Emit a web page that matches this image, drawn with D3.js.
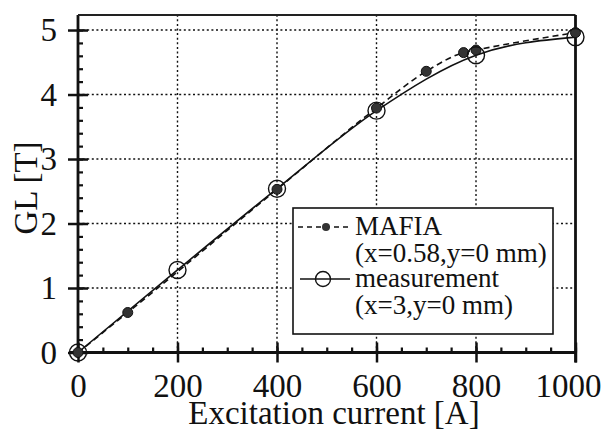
<!DOCTYPE html>
<html>
<head>
<meta charset="utf-8">
<script src="https://cdn.jsdelivr.net/npm/d3@7"></script>
</head>
<body style="margin:0">
<svg id="viewer"></svg>
<script>
// data
var mafiaCurrent = [0, 100, 400, 600, 700, 775, 800, 1000];
var mafiaGL      = [0, 0.62, 2.53, 3.79, 4.36, 4.65, 4.69, 4.96];
var measCurrent  = [0, 200, 400, 600, 800, 1000];
var measGL       = [0, 1.28, 2.54, 3.75, 4.61, 4.89];
var xTicks = [0, 200, 400, 600, 800, 1000];
var yTicks = [0, 1, 2, 3, 4, 5];
var legendLabels = [['MAFIA', '(x=0.58,y=0 mm)'], ['measurement', '(x=3,y=0 mm)']];

var mafia = mafiaCurrent.map(function(c,i){return {x:c, y:mafiaGL[i]};});
var meas  = measCurrent.map(function(c,i){return {x:c, y:measGL[i]};});

function serif(sel, size)
{
  sel.style('font-family',"'Liberation Serif'")
    .style('font-size',size+'px')
    .style('fill','#111');
}

var viewer = d3.select('#viewer')
  .attr('width',605)
  .attr('height',430);

var x = d3.scaleLinear().domain([0,1000]).range([78,575.5]);
var y = d3.scaleLinear().domain([0,5.233]).range([352.5,15]);

// dotted grid
viewer.append('g').selectAll('line')
  .data(yTicks.slice(1))
  .enter().append('line')
    .attr('x1',x(0)).attr('x2',x(1000))
    .attr('y1',function(d){return y(d);}).attr('y2',function(d){return y(d);})
    .attr('stroke','#111').attr('stroke-width',1.4).attr('stroke-dasharray','2,2.6');
viewer.append('g').selectAll('line')
  .data(xTicks.slice(1,5))
  .enter().append('line')
    .attr('x1',function(d){return x(d);}).attr('x2',function(d){return x(d);})
    .attr('y1',y(0)).attr('y2',y.range()[1])
    .attr('stroke','#111').attr('stroke-width',1.4).attr('stroke-dasharray','2,2.6');

// minor ticks (inside)
var yMinor = viewer.append('g')
  .attr('transform','translate('+x(0)+',0)')
  .call(d3.axisRight(y).tickValues(d3.range(0,5.01,0.2)).tickSize(5).tickFormat(''));
yMinor.select('.domain').remove();
yMinor.selectAll('line').attr('stroke','#111').attr('stroke-width',2.2);
var xMinor = viewer.append('g')
  .attr('transform','translate(0,'+y(0)+')')
  .call(d3.axisTop(x).tickValues(d3.range(0,1001,50)).tickSize(5).tickFormat(''));
xMinor.select('.domain').remove();
xMinor.selectAll('line').attr('stroke','#111').attr('stroke-width',2.2);

// major axes
var yAxis = viewer.append('g')
  .attr('transform','translate('+x(0)+',0)')
  .call(d3.axisLeft(y).tickValues(yTicks).tickSize(10).tickPadding(11).tickFormat(d3.format('d')));
yAxis.select('.domain').remove();
yAxis.selectAll('line').attr('x2',-10).attr('x1',10).attr('stroke','#111').attr('stroke-width',2.5);
yAxis.selectAll('text').attr('dy','0.33em').call(serif,33);

var xAxis = viewer.append('g')
  .attr('transform','translate(0,'+y(0)+')')
  .call(d3.axisBottom(x).tickValues(xTicks).tickSize(10).tickPadding(0).tickFormat(d3.format('d')));
xAxis.select('.domain').remove();
xAxis.selectAll('line').attr('y1',-10).attr('y2',10).attr('stroke','#111').attr('stroke-width',2.5);
xAxis.selectAll('text').attr('y',44).attr('dy',0).call(serif,33)
  .filter(function(d){return d===1000;})
    .attr('text-anchor','end').attr('x',601-x(1000));

// frame
viewer.append('line').attr('x1',x(0)).attr('x2',x(0)).attr('y1',y.range()[1]).attr('y2',y(0)+5)
  .attr('stroke','#111').attr('stroke-width',2.8);
viewer.append('line').attr('x1',x(0)-8).attr('x2',x(1000)).attr('y1',y(0)).attr('y2',y(0))
  .attr('stroke','#111').attr('stroke-width',2.8);
viewer.append('line').attr('x1',x(0)).attr('x2',x(1000)).attr('y1',y.range()[1]).attr('y2',y.range()[1])
  .attr('stroke','#222').attr('stroke-width',2);
viewer.append('line').attr('x1',x(1000)).attr('x2',x(1000)).attr('y1',y.range()[1]).attr('y2',y(0)+10)
  .attr('stroke','#111').attr('stroke-width',2.8);

// curves
var line = d3.line()
  .x(function(d){return x(d.x);})
  .y(function(d){return y(d.y);})
  .curve(d3.curveMonotoneX);

viewer.append('path').datum(mafia)
  .attr('d',line).attr('fill','none')
  .attr('stroke','#111').attr('stroke-width',1.6).attr('stroke-dasharray','6,4');
viewer.append('path').datum(meas)
  .attr('d',line).attr('fill','none')
  .attr('stroke','#111').attr('stroke-width',1.6);

viewer.append('g').selectAll('circle')
  .data(mafia)
  .enter().append('circle')
    .attr('cx',function(d){return x(d.x);})
    .attr('cy',function(d){return y(d.y);})
    .attr('r',5).attr('fill','#333').attr('stroke','#111').attr('stroke-width',1);
viewer.append('g').selectAll('circle')
  .data(meas)
  .enter().append('circle')
    .attr('cx',function(d){return x(d.x);})
    .attr('cy',function(d){return y(d.y);})
    .attr('r',8.5).attr('fill','none').attr('stroke','#111').attr('stroke-width',1.4);

// axis titles
viewer.append('text')
  .attr('x',334).attr('y',424)
  .attr('text-anchor','middle')
  .call(serif,33)
  .text('Excitation current [A]');
viewer.append('text')
  .attr('transform','translate(37,188) rotate(-90)')
  .attr('text-anchor','middle')
  .call(serif,33)
  .text('GL [T]');

// legend
var legend = viewer.append('g');
legend.append('rect')
  .attr('x',293).attr('y',208).attr('width',260).attr('height',126)
  .attr('fill','#fff').attr('stroke','#111').attr('stroke-width',1.6);

legendLabels.forEach(function(d,i){
  legend.append('text')
    .attr('x',355).attr('y',235+i*52)
    .call(serif,27)
    .text(d[0]);
  legend.append('text')
    .attr('x',355).attr('y',262+i*52)
    .call(serif,27)
    .text(d[1]);
});

legend.append('line')
  .attr('x1',298).attr('x2',351).attr('y1',227).attr('y2',227)
  .attr('stroke','#111').attr('stroke-width',1.4).attr('stroke-dasharray','5,4');
legend.append('circle').attr('cx',326).attr('cy',227).attr('r',4).attr('fill','#333');
legend.append('line')
  .attr('x1',300).attr('x2',350).attr('y1',279).attr('y2',279)
  .attr('stroke','#111').attr('stroke-width',1.4);
legend.append('circle').attr('cx',323).attr('cy',279).attr('r',7.5)
  .attr('fill','none').attr('stroke','#111').attr('stroke-width',1.4);
</script>
</body>
</html>
